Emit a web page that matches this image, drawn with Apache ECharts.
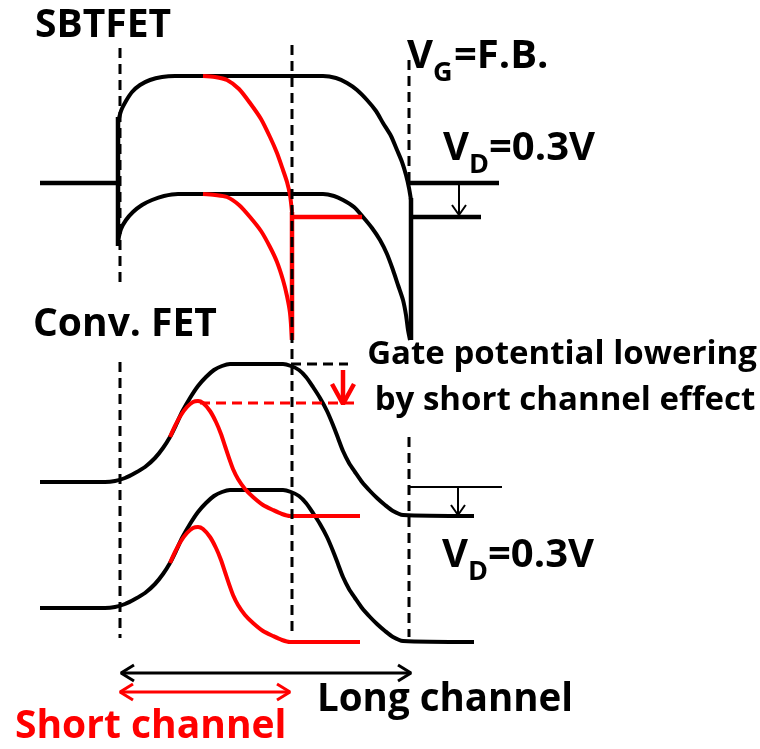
<!DOCTYPE html>
<html>
<head>
<meta charset="utf-8">
<script src="https://cdn.jsdelivr.net/npm/echarts@6/dist/echarts.min.js"></script>
<style>
  html, body { margin: 0; padding: 0; background: #fff; }
  #chart { width: 760px; height: 749px; }
</style>
</head>
<body>
<div id="chart"></div>
<script>
// band edges, x / y read in picture pixels (y grows downward)
const sbtSourceFermi = [[40, 183], [118, 183]];
const sbtSourceWall = [[118, 117], [118, 246]];
const sbtCondLong = [[118, 123], [121, 111], [126, 101], [132, 92], [140, 85], [150, 80], [162, 77], [175, 76], [323, 76], [336, 78], [347, 83], [357, 90], [367, 100], [376, 111], [383, 123], [391, 136], [397, 150], [402, 162], [406, 175], [409, 188], [411, 200]];
const sbtValLong = [[118, 241], [121, 229], [126, 220], [133, 212], [142, 205], [152, 200], [164, 196], [178, 194], [323, 194], [334, 196], [343, 200], [354, 207], [363, 217], [372, 228], [380, 240], [387, 254], [393, 270], [398, 285], [403, 300], [406, 315], [408, 330], [410, 340]];
const sbtDrainWall = [[411, 198], [411, 340]];
const sbtDrainFermi0 = [[409, 183], [499, 183]];
const sbtDrainFermi1 = [[411, 217], [481, 217]];
const sbtVdArrow = [[459, 185], [459, 215]];
const sbtVdHead = [[452, 205], [459, 215], [466, 205]];

const sbtCondShort = [[203, 76], [215, 77], [227, 80], [239, 89], [250, 103], [261, 119], [270, 137], [277, 153], [283, 170], [287, 182], [290, 195], [292, 212]];
const sbtValShort = [[203, 194], [215, 195], [227, 197], [239, 205], [250, 217], [261, 231], [270, 247], [277, 262], [283, 280], [287, 296], [290, 313], [292, 340]];
const sbtShortWall = [[292, 212], [292, 340]];
const sbtShortFermi = [[292, 217], [362, 217]];

const convCondLong = [[40, 482], [105, 482], [115, 481], [125, 478], [135, 473], [145, 467], [155, 458], [163, 448], [170, 437], [176, 425], [182, 412], [190, 398], [198, 386], [206, 377], [214, 370], [222, 366], [230, 364], [283, 364], [291, 366], [299, 370], [306, 377], [313, 387], [320, 398], [327, 411], [333, 425], [338, 438], [343, 451], [349, 463], [355, 472], [362, 482], [370, 491], [377, 498], [385, 505], [393, 511], [403, 515], [474, 516]];
const convValLong = [[40, 608], [105, 608], [115, 607], [125, 604], [135, 599], [145, 593], [155, 584], [163, 574], [170, 563], [176, 551], [182, 538], [190, 524], [198, 512], [206, 503], [214, 496], [222, 492], [230, 490], [283, 490], [291, 492], [299, 496], [306, 503], [313, 513], [320, 524], [327, 537], [333, 551], [338, 564], [343, 577], [349, 589], [355, 598], [362, 608], [370, 617], [377, 624], [385, 631], [393, 637], [403, 641], [474, 642]];
const convCondShort = [[170, 437], [175, 426], [181, 415], [187, 407], [193, 402], [198, 401], [203, 403], [210, 411], [216, 422], [221, 434], [225, 446], [229, 458], [233, 469], [238, 479], [245, 489], [253, 497], [263, 505], [273, 510], [282, 514], [290, 516], [360, 516]];
const convValShort = [[170, 563], [175, 552], [181, 541], [187, 533], [193, 528], [198, 527], [203, 529], [210, 537], [216, 548], [221, 560], [225, 572], [229, 584], [233, 595], [238, 605], [245, 615], [253, 623], [263, 631], [273, 636], [282, 640], [290, 642], [360, 642]];
const convDrainFermi = [[409, 487], [502, 487]];
const convVdArrow = [[458, 488], [458, 515]];
const convVdHead = [[451, 505], [458, 515], [465, 505]];
const convGateLevel = [[291, 364], [348, 364]];
const convGateLowered = [[200, 403], [355, 403]];
const convLowerArrow = [[343, 370], [343, 402]];
const convLowerHead = [[332, 384], [343, 404], [354, 384]];

const dashedGuides = [
  [[120, 48], [120, 287]],
  [[120, 362], [120, 638]],
  [[292, 45], [292, 633]],
  [[409, 60], [409, 187]],
  [[409, 437], [409, 637]]
];

const longArrow = [[121, 673], [411, 673]];
const longHeads = [[[134, 665], [121, 673], [134, 681]], [[398, 665], [411, 673], [398, 681]]];
const shortArrow = [[120, 692], [290, 692]];
const shortHeads = [[[133, 684], [120, 692], [133, 700]], [[277, 684], [290, 692], [277, 700]]];

const BLACK = '#000000';
const RED = '#ff0000';
const FONT = '"Open Sans", "Liberation Sans", sans-serif';

function seg(data, color, width, smooth, dashed) {
  return {
    type: 'line',
    data,
    symbol: 'none',
    smooth: smooth || false,
    silent: true,
    lineStyle: { color, width, type: dashed ? [10, 6] : 'solid' },
  };
}

function txt(x, y, text, size, color, align) {
  return {
    type: 'text',
    x,
    y,
    silent: true,
    style: {
      text,
      fill: color || BLACK,
      font: 'bold ' + size + 'px ' + FONT,
      textAlign: align || 'left',
      textVerticalAlign: 'middle',
    },
  };
}

const series = [
  seg(sbtSourceFermi, BLACK, 4.5),
  seg(sbtSourceWall, BLACK, 4.5),
  seg(sbtCondLong, BLACK, 4, 0.25),
  seg(sbtValLong, BLACK, 4, 0.25),
  seg(sbtDrainWall, BLACK, 4.5),
  seg(sbtDrainFermi0, BLACK, 4.5),
  seg(sbtDrainFermi1, BLACK, 4.5),
  seg(sbtVdArrow, BLACK, 2),
  seg(sbtVdHead, BLACK, 2),
  seg(convCondLong, BLACK, 4, 0.25),
  seg(convValLong, BLACK, 4, 0.25),
  seg(convDrainFermi, BLACK, 2),
  seg(convVdArrow, BLACK, 2),
  seg(convVdHead, BLACK, 2),
  seg(sbtCondShort, RED, 4, 0.25),
  seg(sbtValShort, RED, 4, 0.25),
  seg(sbtShortWall, RED, 4.5),
  seg(sbtShortFermi, RED, 4.5),
  seg(convCondShort, RED, 4, 0.25),
  seg(convValShort, RED, 4, 0.25),
  seg(convGateLowered, RED, 3, false, true),
  seg(convLowerArrow, RED, 4.5),
  seg(convLowerHead, RED, 4.5),
  seg(convGateLevel, BLACK, 3, false, true),
  seg(longArrow, BLACK, 3),
  seg(shortArrow, RED, 3),
];
longHeads.forEach((h) => series.push(seg(h, BLACK, 3)));
shortHeads.forEach((h) => series.push(seg(h, RED, 3)));
dashedGuides.forEach((g) => series.push(seg(g, BLACK, 3, false, true)));

const chart = echarts.init(document.getElementById('chart'));
chart.setOption({
  animation: false,
  backgroundColor: '#ffffff',
  grid: { left: 0, right: 0, top: 0, bottom: 0 },
  xAxis: { type: 'value', min: 0, max: 760, show: false },
  yAxis: { type: 'value', min: 0, max: 749, inverse: true, show: false },
  graphic: [
    txt(35, 26, 'SBTFET', 39),
    txt(33, 325, 'Conv. FET', 39),
    // V_G=F.B.
    txt(407, 57, 'V', 40),
    txt(433, 73, 'G', 27),
    txt(454, 57, '=F.B.', 40),
    // V_D=0.3V (SBTFET)
    txt(443, 149, 'V', 40),
    txt(469, 165, 'D', 27),
    txt(489, 149, '=0.3V', 40),
    // V_D=0.3V (Conv. FET)
    txt(442, 556, 'V', 40),
    txt(468, 572, 'D', 27),
    txt(488, 556, '=0.3V', 40),
    txt(562, 355, 'Gate potential lowering', 33, BLACK, 'center'),
    txt(565, 401, 'by short channel effect', 33, BLACK, 'center'),
    txt(317, 700, 'Long channel', 38.5),
    txt(15, 727, 'Short channel', 39, RED),
  ],
  series,
});
</script>
</body>
</html>
